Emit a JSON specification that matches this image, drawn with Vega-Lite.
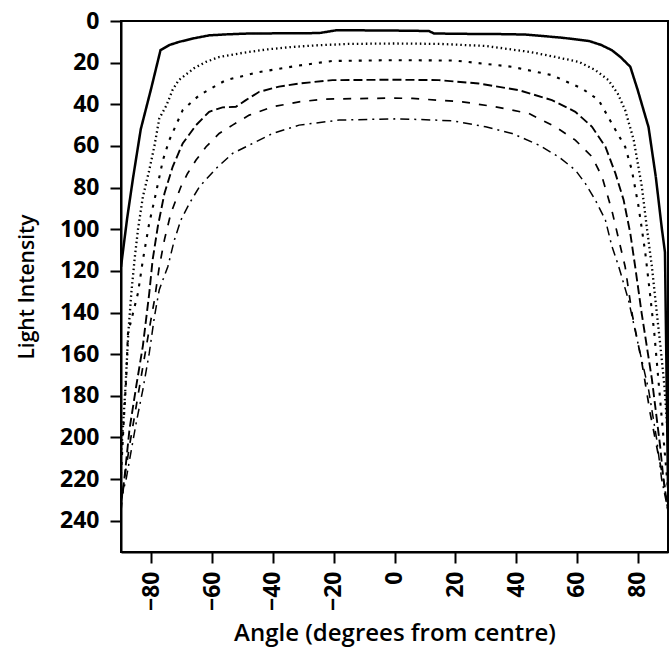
{
  "$schema": "https://vega.github.io/schema/vega-lite/v6.json",
  "autosize": {"type": "none"},
  "width": 547,
  "height": 531,
  "padding": {"left": 121, "top": 21, "right": 4, "bottom": 96},
  "background": "white",
  "config": {
    "view": {"stroke": "#000", "strokeWidth": 2},
    "axis": {
      "grid": false,
      "domainColor": "#000",
      "domainWidth": 2,
      "tickColor": "#000",
      "tickWidth": 2,
      "tickSize": 11,
      "labelFont": "Open Sans",
      "labelFontWeight": "bold",
      "labelFontSize": 23,
      "labelColor": "#000",
      "titleFont": "Open Sans",
      "titleFontWeight": 600,
      "titleFontSize": 21,
      "titleColor": "#000"
    }
  },
  "data": {"values": [
    {"s":"a","x":-90,"y":118},{"s":"a","x":-88,"y":95},{"s":"a","x":-86,"y":75},{"s":"a","x":-83.5,"y":52},{"s":"a","x":-80,"y":32},{"s":"a","x":-77,"y":14},{"s":"a","x":-74,"y":11.5},{"s":"a","x":-70.8,"y":10},{"s":"a","x":-66,"y":8.3},{"s":"a","x":-61,"y":6.9},{"s":"a","x":-55,"y":6.4},{"s":"a","x":-47.8,"y":6},{"s":"a","x":-35,"y":5.9},{"s":"a","x":-24.8,"y":5.8},{"s":"a","x":-19.3,"y":4.5},{"s":"a","x":-10,"y":4.5},{"s":"a","x":0,"y":4.6},{"s":"a","x":11.3,"y":4.8},{"s":"a","x":13,"y":6},{"s":"a","x":25,"y":6.2},{"s":"a","x":35,"y":6.3},{"s":"a","x":43,"y":6.5},{"s":"a","x":55,"y":8},{"s":"a","x":64,"y":9.6},{"s":"a","x":68,"y":11.5},{"s":"a","x":71.5,"y":14},{"s":"a","x":74.5,"y":17.5},{"s":"a","x":77.6,"y":22},{"s":"a","x":80,"y":33},{"s":"a","x":83.6,"y":51},{"s":"a","x":86,"y":75},{"s":"a","x":88,"y":100},{"s":"a","x":89,"y":111},{"s":"a","x":90,"y":224},
    {"s":"b","x":-90,"y":208},{"s":"b","x":-89.4,"y":196},{"s":"b","x":-88.5,"y":175},{"s":"b","x":-87.6,"y":150},{"s":"b","x":-86.6,"y":130.6},{"s":"b","x":-85.5,"y":114},{"s":"b","x":-84.4,"y":100},{"s":"b","x":-82.8,"y":84.4},{"s":"b","x":-80.7,"y":71.6},{"s":"b","x":-79,"y":60},{"s":"b","x":-77.4,"y":46.8},{"s":"b","x":-75,"y":40.4},{"s":"b","x":-73,"y":33},{"s":"b","x":-71,"y":28.4},{"s":"b","x":-66,"y":22.7},{"s":"b","x":-62,"y":19.6},{"s":"b","x":-57.7,"y":17.3},{"s":"b","x":-50,"y":15.3},{"s":"b","x":-42.3,"y":13.7},{"s":"b","x":-34,"y":12.5},{"s":"b","x":-25.9,"y":11.7},{"s":"b","x":-15,"y":11},{"s":"b","x":0,"y":10.8},{"s":"b","x":15,"y":11},{"s":"b","x":30,"y":12},{"s":"b","x":44.7,"y":14.9},{"s":"b","x":52,"y":17},{"s":"b","x":60.6,"y":19.6},{"s":"b","x":66,"y":23.5},{"s":"b","x":70.4,"y":28.4},{"s":"b","x":73.5,"y":35},{"s":"b","x":75.9,"y":42.8},{"s":"b","x":78.7,"y":57},{"s":"b","x":81.4,"y":79.6},{"s":"b","x":83,"y":98.8},{"s":"b","x":84.7,"y":118},{"s":"b","x":86.3,"y":140},{"s":"b","x":87.4,"y":154.6},{"s":"b","x":88.8,"y":175},{"s":"b","x":90,"y":200},
    {"s":"c","x":-90,"y":218},{"s":"c","x":-89.2,"y":195},{"s":"c","x":-88.3,"y":172},{"s":"c","x":-87.7,"y":150},{"s":"c","x":-86,"y":140},{"s":"c","x":-84.4,"y":130.6},{"s":"c","x":-82.8,"y":114.8},{"s":"c","x":-80.7,"y":97},{"s":"c","x":-79,"y":86},{"s":"c","x":-76.2,"y":66.8},{"s":"c","x":-74.1,"y":57.2},{"s":"c","x":-69.7,"y":42.8},{"s":"c","x":-64.2,"y":35.6},{"s":"c","x":-55.5,"y":28.4},{"s":"c","x":-44.5,"y":24.5},{"s":"c","x":-32,"y":21.5},{"s":"c","x":-20.5,"y":19.2},{"s":"c","x":0,"y":18.8},{"s":"c","x":20,"y":19},{"s":"c","x":38.7,"y":22},{"s":"c","x":51.8,"y":26},{"s":"c","x":61.7,"y":32.4},{"s":"c","x":67.2,"y":38},{"s":"c","x":71.5,"y":49.2},{"s":"c","x":75.9,"y":60.4},{"s":"c","x":78.1,"y":71.6},{"s":"c","x":80.3,"y":89},{"s":"c","x":82.5,"y":111},{"s":"c","x":84,"y":130},{"s":"c","x":85.5,"y":150},{"s":"c","x":87,"y":175},{"s":"c","x":88.5,"y":200},{"s":"c","x":90,"y":225},
    {"s":"d","x":-90,"y":232},{"s":"d","x":-88.9,"y":220},{"s":"d","x":-87.2,"y":196},{"s":"d","x":-85,"y":175.5},{"s":"d","x":-82.8,"y":156},{"s":"d","x":-80.7,"y":130.7},{"s":"d","x":-79.6,"y":114.8},{"s":"d","x":-77.9,"y":98.8},{"s":"d","x":-75.7,"y":82.8},{"s":"d","x":-73,"y":70},{"s":"d","x":-69.7,"y":58.8},{"s":"d","x":-65.3,"y":50},{"s":"d","x":-61,"y":43.6},{"s":"d","x":-56.6,"y":41.5},{"s":"d","x":-52.2,"y":41.2},{"s":"d","x":-48.9,"y":38},{"s":"d","x":-44.5,"y":34},{"s":"d","x":-38,"y":31.5},{"s":"d","x":-31.4,"y":30},{"s":"d","x":-20.4,"y":28.4},{"s":"d","x":0,"y":28.2},{"s":"d","x":14.6,"y":28.4},{"s":"d","x":27.7,"y":30},{"s":"d","x":40.9,"y":33.2},{"s":"d","x":51.8,"y":38},{"s":"d","x":59.5,"y":43.6},{"s":"d","x":65,"y":50.8},{"s":"d","x":69.4,"y":60.4},{"s":"d","x":72.7,"y":73.2},{"s":"d","x":75.4,"y":86},{"s":"d","x":77.6,"y":102},{"s":"d","x":79.2,"y":118},{"s":"d","x":81.3,"y":140},{"s":"d","x":84.7,"y":172},{"s":"d","x":87.4,"y":204},{"s":"d","x":88.5,"y":220},{"s":"d","x":90,"y":235},
    {"s":"e","x":-90,"y":235},{"s":"e","x":-88.9,"y":220},{"s":"e","x":-87.2,"y":204},{"s":"e","x":-85,"y":185},{"s":"e","x":-82.8,"y":166},{"s":"e","x":-80.7,"y":148},{"s":"e","x":-79,"y":134},{"s":"e","x":-77.4,"y":118},{"s":"e","x":-75.7,"y":105},{"s":"e","x":-73.6,"y":92.4},{"s":"e","x":-70.3,"y":79.6},{"s":"e","x":-68.1,"y":73.2},{"s":"e","x":-65.3,"y":66.8},{"s":"e","x":-62,"y":60.4},{"s":"e","x":-57.7,"y":54},{"s":"e","x":-53.3,"y":50},{"s":"e","x":-47.8,"y":45.2},{"s":"e","x":-40.1,"y":41.2},{"s":"e","x":-31.4,"y":38.8},{"s":"e","x":-22.6,"y":37.5},{"s":"e","x":0,"y":37},{"s":"e","x":5.9,"y":37.2},{"s":"e","x":22.3,"y":38.8},{"s":"e","x":33.2,"y":41.2},{"s":"e","x":44.2,"y":44.4},{"s":"e","x":52.9,"y":50.8},{"s":"e","x":59.5,"y":57.2},{"s":"e","x":65,"y":65.2},{"s":"e","x":68.3,"y":74.8},{"s":"e","x":71.5,"y":90.8},{"s":"e","x":73.8,"y":105},{"s":"e","x":75.9,"y":118},{"s":"e","x":78.1,"y":140},{"s":"e","x":81.4,"y":164},{"s":"e","x":84.1,"y":188},{"s":"e","x":86.9,"y":209},{"s":"e","x":88.5,"y":220},{"s":"e","x":90,"y":232},
    {"s":"f","x":-90,"y":230},{"s":"f","x":-88.3,"y":220},{"s":"f","x":-86.6,"y":206},{"s":"f","x":-85,"y":193},{"s":"f","x":-82.8,"y":177},{"s":"f","x":-80.7,"y":159.5},{"s":"f","x":-79,"y":142},{"s":"f","x":-77.4,"y":129},{"s":"f","x":-74.6,"y":118},{"s":"f","x":-72.4,"y":105},{"s":"f","x":-70.3,"y":95.6},{"s":"f","x":-67.5,"y":87.6},{"s":"f","x":-64.2,"y":79.6},{"s":"f","x":-58.7,"y":70.8},{"s":"f","x":-53.3,"y":63.6},{"s":"f","x":-47.8,"y":59.6},{"s":"f","x":-40.1,"y":54},{"s":"f","x":-31.4,"y":50},{"s":"f","x":-18.2,"y":47.6},{"s":"f","x":0,"y":47},{"s":"f","x":5.9,"y":47.2},{"s":"f","x":19,"y":47.9},{"s":"f","x":30,"y":50.8},{"s":"f","x":38.7,"y":54},{"s":"f","x":47.5,"y":59.6},{"s":"f","x":54,"y":65.2},{"s":"f","x":59.5,"y":71.6},{"s":"f","x":62.8,"y":78},{"s":"f","x":66.1,"y":86},{"s":"f","x":69.4,"y":95.6},{"s":"f","x":71.5,"y":108},{"s":"f","x":73.8,"y":118},{"s":"f","x":77,"y":134},{"s":"f","x":80.3,"y":156},{"s":"f","x":83.6,"y":177},{"s":"f","x":86.3,"y":201},{"s":"f","x":87.9,"y":220},{"s":"f","x":90,"y":235}
  ]},
  "mark": {"type": "line", "color": "#000", "clip": true, "strokeCap": "butt"},
  "encoding": {
    "x": {
      "field": "x", "type": "quantitative",
      "scale": {"domain": [-90, 90], "nice": false, "zero": false},
      "axis": {"values": [-80, -60, -40, -20, 0, 20, 40, 60, 80], "labelAngle": -90, "labelPadding": 8, "title": "Angle (degrees from centre)", "titleFontSize": 24, "titlePadding": 11}
    },
    "y": {
      "field": "y", "type": "quantitative",
      "scale": {"domain": [0, 255], "nice": false, "reverse": true},
      "axis": {"values": [0, 20, 40, 60, 80, 100, 120, 140, 160, 180, 200, 220, 240], "labelPadding": 11, "title": "Light Intensity", "titlePadding": 22}
    },
    "detail": {"field": "s", "type": "nominal"},
    "strokeDash": {
      "field": "s", "type": "nominal", "legend": null,
      "scale": {"domain": ["a", "b", "c", "d", "e", "f"], "range": [[1, 0], [1.5, 3], [3, 7], [9, 4], [8, 9], [9, 5, 2, 5]]}
    },
    "strokeWidth": {
      "field": "s", "type": "nominal", "legend": null,
      "scale": {"domain": ["a", "b", "c", "d", "e", "f"], "range": [2.5, 1.5, 2, 2.8, 2.2, 2]}
    }
  }
}
